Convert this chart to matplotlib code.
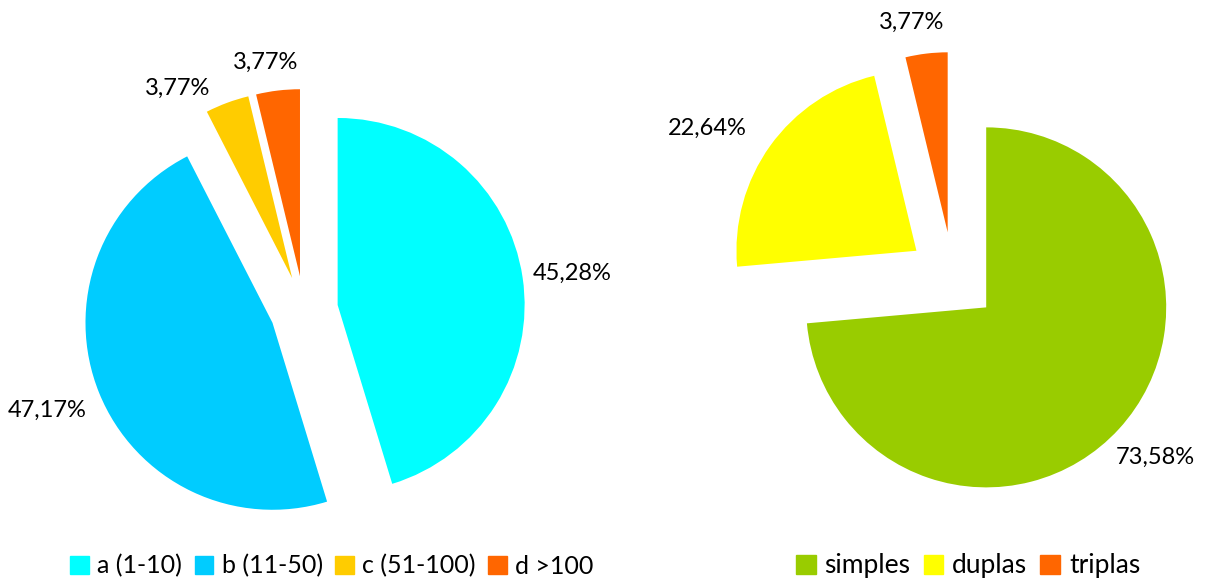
import matplotlib.pyplot as plt
from matplotlib.patches import Patch

plt.rcParams['font.family'] = ['Lato', 'DejaVu Sans']

# faixas de tamanho
size_labels = ['a (1-10)', 'b (11-50)', 'c (51-100)', 'd >100']
size_pct = [45.28, 47.17, 3.77, 3.77]
size_colors = ['#00FFFF', '#00CCFF', '#FFCC00', '#FF6600']

# tipo de ocorrencia
type_labels = ['simples', 'duplas', 'triplas']
type_pct = [73.58, 22.64, 3.77]
type_colors = ['#99CC00', '#FFFF00', '#FF6600']

W, H = 1222, 582
fig = plt.figure(figsize=(W / 100, H / 100), dpi=100)
ax = fig.add_axes([0, 0, 1, 1])


def fmt(v):
    return f'{v:.2f}%'.replace('.', ',')


def draw_pie(vals, colors, center, radius, explode, label_pos):
    # explode vai em unidades do eixo (pixels aqui)
    ax.pie(vals, colors=colors, startangle=90, counterclock=False,
           center=(center[0], H - center[1]), radius=radius,
           explode=[explode] * len(vals), wedgeprops=dict(linewidth=0))
    for v, (x, y) in zip(vals, label_pos):
        ax.text(x, H - y, fmt(v), ha='center', va='center', fontsize=17)


draw_pie(size_pct, size_colors, (304, 310), 187, 34,
         [(572, 273), (47, 410), (178, 88), (266, 62)])
draw_pie(type_pct, type_colors, (953, 277), 180, 45,
         [(1155, 457), (707, 128), (912, 22)])

ax.set_xlim(0, W)
ax.set_ylim(0, H)
ax.set_aspect('equal')
ax.axis('off')

leg_kw = dict(frameon=False, handlelength=0.75, handleheight=0.75,
              handletextpad=0.33, columnspacing=0.5, borderaxespad=0)
fig.legend([Patch(color=c) for c in size_colors], size_labels, ncol=4,
           loc='center', bbox_to_anchor=(332 / W, 1 - 566 / H),
           fontsize=18, **leg_kw)
fig.legend([Patch(color=c) for c in type_colors], type_labels, ncol=3,
           loc='center', bbox_to_anchor=(968 / W, 1 - 566 / H),
           fontsize=19, **leg_kw)

fig.savefig('out.png', dpi=100)
